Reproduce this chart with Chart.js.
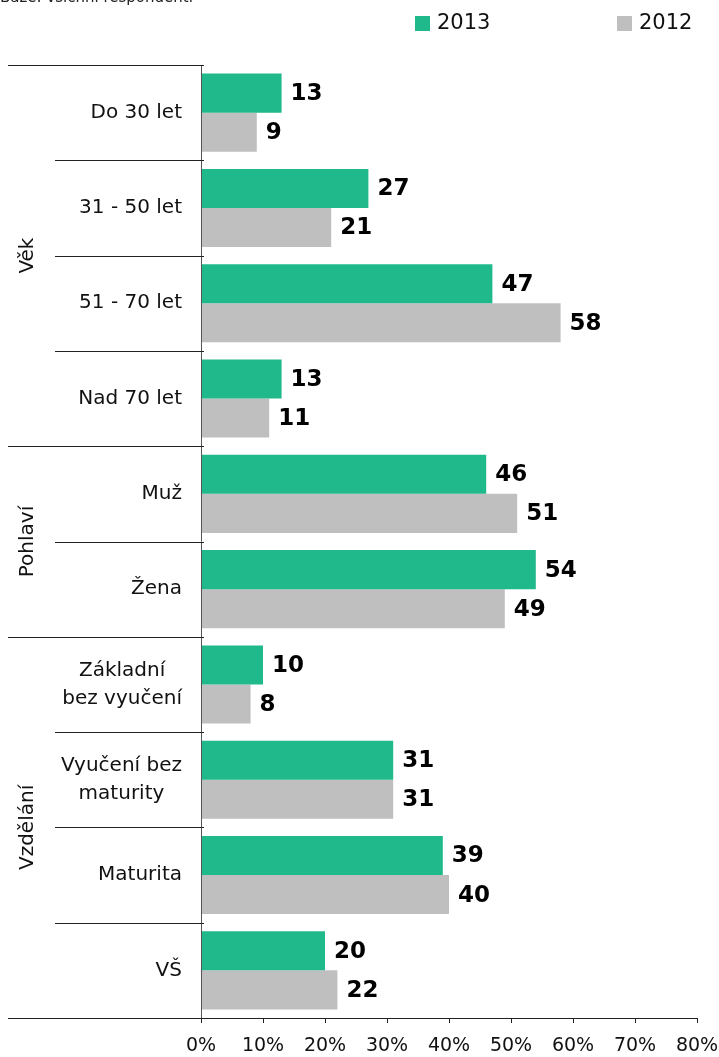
<!DOCTYPE html>
<html>
<head>
<meta charset="utf-8">
<script src="https://cdn.jsdelivr.net/npm/chart.js@4/dist/chart.umd.min.js"></script>
<style>
  html, body { margin: 0; padding: 0; background: #fff; }
  #wrap { width: 719px; height: 1057px; position: relative; }
</style>
</head>
<body>
<div id="wrap"><canvas id="myChart" width="719" height="1057"></canvas></div>
<script>
const categories = [
    ['Do 30 let'], ['31 - 50 let'], ['51 - 70 let'], ['Nad 70 let'],
    ['Muž'], ['Žena'],
    ['Základní', 'bez vyučení'], ['Vyučení bez', 'maturity'], ['Maturita'], ['VŠ']
];
const values2013 = [13, 27, 47, 13, 46, 54, 10, 31, 39, 20];
const values2012 = [9, 21, 58, 11, 51, 49, 8, 31, 40, 22];
const groups = [
    { name: 'Věk', from: 0, to: 3 },
    { name: 'Pohlaví', from: 4, to: 5 },
    { name: 'Vzdělání', from: 6, to: 9 }
];
const seriesNames = ['2013', '2012'];
const colors = ['#20B98B', '#BFBFBF'];
const note = 'Báze: všichni respondenti';
const font = '"DejaVu Sans", Verdana, sans-serif';

const decorPlugin = {
    id: 'decor',
    afterDatasetsDraw(chart) {
        const c = chart.ctx;
        const area = chart.chartArea;
        const y = chart.scales.y;
        const half = (y.getPixelForValue(1) - y.getPixelForValue(0)) / 2;

        c.save();
        // note at the top, cut off by the page edge
        c.fillStyle = '#222';
        c.font = '15px ' + font;
        c.textAlign = 'left';
        c.textBaseline = 'alphabetic';
        c.fillText(note, 0, 2);

        // legend
        c.font = '21px ' + font;
        c.textBaseline = 'middle';
        const legX = [415, 617];
        seriesNames.forEach((n, i) => {
            c.fillStyle = colors[i];
            c.fillRect(legX[i], 16, 15, 15);
            c.fillStyle = '#111';
            c.fillText(n, legX[i] + 22, 24);
        });

        // data labels
        c.font = 'bold 23px ' + font;
        c.fillStyle = '#000';
        c.textAlign = 'left';
        chart.data.datasets.forEach((ds, di) => {
            chart.getDatasetMeta(di).data.forEach((bar, i) => {
                c.fillText(ds.data[i], bar.x + 9, bar.y + 1);
            });
        });

        // left axis line
        c.strokeStyle = '#555';
        c.lineWidth = 1;
        c.beginPath();
        c.moveTo(area.left + 0.5, area.top);
        c.lineTo(area.left + 0.5, area.bottom);
        c.stroke();

        // separators
        c.strokeStyle = '#222';
        for (let i = 0; i <= categories.length; i++) {
            const py = Math.round(i < categories.length ? y.getPixelForValue(i) - half : y.getPixelForValue(i - 1) + half) + 0.5;
            const isGroup = groups.some(g => g.from === i) || i === categories.length;
            c.beginPath();
            c.moveTo(isGroup ? 8 : 55, py);
            c.lineTo(area.left + 3, py);
            c.stroke();
        }

        // category labels
        c.fillStyle = '#111';
        c.font = '20px ' + font;
        c.textAlign = 'center';
        categories.forEach((lines, i) => {
            const cy = y.getPixelForValue(i);
            const w = Math.max(...lines.map(l => c.measureText(l).width));
            const cx = 182 - w / 2;
            const lh = 28;
            lines.forEach((l, k) => {
                c.fillText(l, cx, cy + (k - (lines.length - 1) / 2) * lh);
            });
        });

        // group labels
        groups.forEach(g => {
            const top = y.getPixelForValue(g.from) - half;
            const bottom = y.getPixelForValue(g.to) + half;
            c.save();
            c.translate(28, (top + bottom) / 2);
            c.rotate(-Math.PI / 2);
            c.fillText(g.name, 0, 0);
            c.restore();
        });
        c.restore();
    }
};

const ctx = document.getElementById('myChart').getContext('2d');
const myChart = new Chart(ctx, {
    type: 'bar',
    data: {
        labels: categories,
        datasets: [{
            label: seriesNames[0],
            data: values2013,
            backgroundColor: colors[0],
            categoryPercentage: 0.82,
            barPercentage: 1
        }, {
            label: seriesNames[1],
            data: values2012,
            backgroundColor: colors[1],
            categoryPercentage: 0.82,
            barPercentage: 1
        }]
    },
    options: {
        indexAxis: 'y',
        responsive: false,
        animation: false,
        layout: { padding: { left: 201, right: 22, top: 65, bottom: 0 } },
        plugins: { legend: { display: false }, tooltip: { enabled: false } },
        scales: {
            y: { display: false },
            x: {
                min: 0,
                max: 80,
                ticks: {
                    stepSize: 10,
                    color: '#111',
                    font: { family: font, size: 19 },
                    padding: 12,
                    callback: v => v + '%'
                },
                grid: { drawOnChartArea: false, drawTicks: true, tickLength: 5, color: '#222' },
                border: { display: true, color: '#222' },
                afterFit(scale) {
                    scale.height = 39;
                    scale.paddingLeft = 0;
                    scale.paddingRight = 0;
                }
            }
        }
    },
    plugins: [decorPlugin]
});
</script>
</body>
</html>
